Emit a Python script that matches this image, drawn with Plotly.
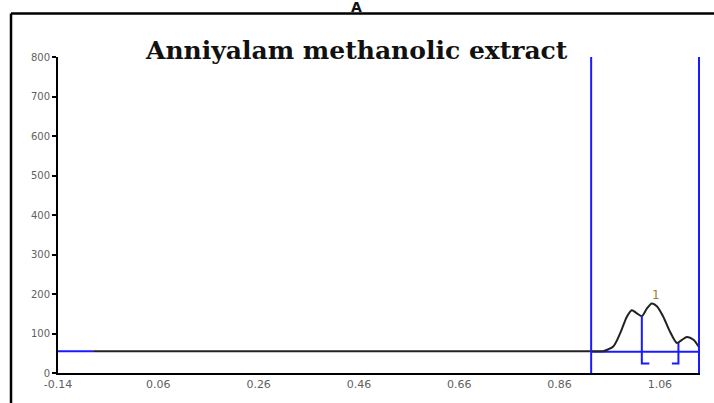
import plotly.graph_objects as go

# Flat baseline before the peak region
flat_x = [-0.07, 0.947]
flat_y = [55, 55]

# Chromatogram trace around the peak region (Rf vs. AU)
signal_x = [0.947, 0.967, 0.981, 0.994, 1.004, 1.014, 1.024, 1.034, 1.044,
            1.054, 1.067, 1.080, 1.094, 1.104, 1.114, 1.127, 1.139]
signal_y = [55, 67, 101, 142, 159, 151, 144, 163, 176,
            169, 142, 105, 76, 84, 91, 84, 63]

# Start segment of the baseline drawn in blue
lead_x = [-0.14, -0.07]
lead_y = [55, 55]

# Integration window and its baseline
window_x = [0.923, 1.138]
window_top = 800
window_baseline = 54

# Peak 1 boundaries (drop lines) and bracket feet
peak_bounds = [1.024, 1.097]
peak_bound_y = [144, 76]
bracket_foot = [1.039, 1.084]
bracket_low = 24

peak_label = "1"
peak_label_pos = (1.052, 197)

x_ticks = [-0.14, 0.06, 0.26, 0.46, 0.66, 0.86, 1.06]
x_tick_text = ["-0.14", "0.06", "0.26", "0.46", "0.66", "0.86", "1.06"]
y_ticks = [0, 100, 200, 300, 400, 500, 600, 700, 800]

BLUE = "#1a1aff"
BLACK = "#222222"

fig = go.Figure()

# baseline lead-in
fig.add_trace(go.Scatter(x=lead_x, y=lead_y, mode="lines",
                         line=dict(color=BLUE, width=2), hoverinfo="skip"))
# integration window baseline
fig.add_trace(go.Scatter(x=window_x, y=[window_baseline, window_baseline], mode="lines",
                         line=dict(color=BLUE, width=2), hoverinfo="skip"))
# flat part of the signal
fig.add_trace(go.Scatter(x=flat_x, y=flat_y, mode="lines",
                         line=dict(color=BLACK, width=2)))
# peak part of the signal
fig.add_trace(go.Scatter(x=signal_x, y=signal_y, mode="lines",
                         line=dict(color=BLACK, width=2, shape="spline", smoothing=0.8)))
# window verticals
for wx in window_x:
    fig.add_trace(go.Scatter(x=[wx, wx], y=[0, window_top], mode="lines",
                             line=dict(color=BLUE, width=2), hoverinfo="skip"))
# peak drop lines with bracket feet
for bx, by, fx in zip(peak_bounds, peak_bound_y, bracket_foot):
    fig.add_trace(go.Scatter(x=[bx, bx, fx], y=[by, bracket_low, bracket_low], mode="lines",
                             line=dict(color=BLUE, width=2), hoverinfo="skip"))

fig.add_annotation(x=peak_label_pos[0], y=peak_label_pos[1], text=peak_label,
                   showarrow=False, font=dict(family="DejaVu Sans", size=12, color="#a87838"))

# title inside the frame
fig.add_annotation(xref="paper", yref="paper", x=0.4642, y=1.022, text="<b>Anniyalam methanolic extract</b>",
                   showarrow=False, font=dict(family="DejaVu Serif", size=25, color="#111111"),
                   xanchor="center", yanchor="middle")
# panel letter
fig.add_annotation(xref="paper", yref="paper", x=0.4657, y=1.158, text="<b>A</b>",
                   showarrow=False, font=dict(family="DejaVu Sans", size=14, color="#111111"),
                   xanchor="center", yanchor="middle")

# panel frame (top and left edges)
fig.add_shape(type="line", xref="paper", yref="paper", x0=-0.0732, x1=1.03, y0=1.1375, y1=1.1375,
              line=dict(color="black", width=2.5))
fig.add_shape(type="line", xref="paper", yref="paper", x0=-0.0732, x1=-0.0732, y0=1.1375, y1=-0.12,
              line=dict(color="black", width=2.5))

fig.update_layout(
    width=714, height=403,
    margin=dict(l=58, r=14, t=57, b=26),
    paper_bgcolor="white", plot_bgcolor="white",
    showlegend=False,
    xaxis=dict(range=[-0.14, 1.14], tickvals=x_ticks, ticktext=x_tick_text,
               showline=True, linecolor="black", linewidth=2, showgrid=False, zeroline=False,
               ticks="", tickfont=dict(family="DejaVu Sans", size=11, color="#5f5f5f")),
    yaxis=dict(range=[0, 800], tickvals=y_ticks,
               showline=True, linecolor="black", linewidth=2, showgrid=False, zeroline=False,
               ticks="outside", ticklen=4, tickwidth=1.5, tickcolor="black",
               tickfont=dict(family="DejaVu Sans", size=10, color="#5f5f5f")),
)

fig.write_html("out.html")
